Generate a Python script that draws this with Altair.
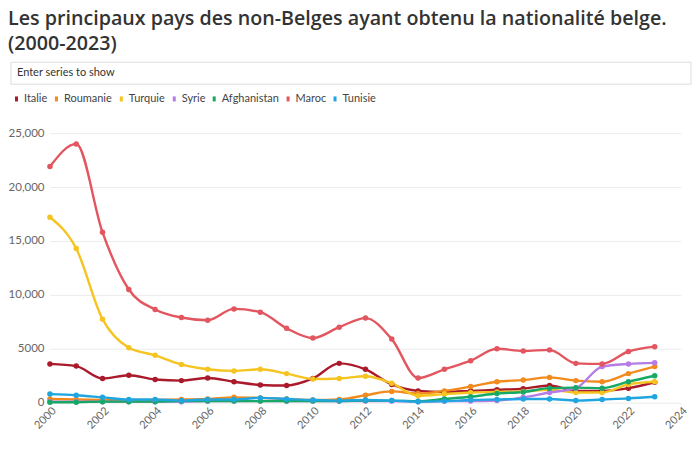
import altair as alt
import pandas as pd

years = list(range(2000, 2024))
series = ["Italie", "Roumanie", "Turquie", "Syrie", "Afghanistan", "Maroc", "Tunisie"]
colors = ["#ab1a2a", "#f28a1e", "#f6c420", "#b57ce6", "#17a866", "#e3555f", "#1fa5df"]

italie = [3600, 3400, 2250, 2550, 2150, 2050, 2300, 1950, 1650, 1600, 2250, 3650,
          3100, 1700, 1100, 1000, 1100, 1200, 1300, 1600, 1100, 1100, 1350, 1900]
roumanie = [350, 300, 250, 200, 250, 300, 350, 500, 450, 350, 250, 300,
            700, 1050, 850, 1100, 1500, 1950, 2100, 2350, 2050, 1950, 2700, 3350]
turquie = [17200, 14300, 7750, 5100, 4400, 3550, 3100, 2950, 3100, 2700, 2200, 2250,
           2450, 1800, 650, 800, 950, 1000, 1050, 1200, 950, 950, 1700, 1950]
syrie = [100, 100, 100, 100, 100, 100, 150, 150, 150, 150, 150, 150,
         150, 150, 100, 150, 150, 200, 500, 950, 1350, 3350, 3600, 3700]
afghanistan = [50, 50, 100, 100, 100, 150, 150, 150, 150, 150, 150, 150,
               200, 200, 150, 350, 550, 850, 1000, 1350, 1400, 1350, 1950, 2500]
maroc = [21900, 24000, 15800, 10500, 8650, 7900, 7650, 8700, 8400, 6900, 6000, 7000,
         7850, 5900, 2300, 3100, 3900, 5000, 4800, 4900, 3650, 3600, 4750, 5200]
tunisie = [800, 700, 500, 300, 300, 200, 300, 300, 450, 350, 250, 200,
           250, 200, 100, 150, 250, 300, 350, 350, 200, 300, 400, 550]

values = [italie, roumanie, turquie, syrie, afghanistan, maroc, tunisie]
rows = []
for i, (name, vals) in enumerate(zip(series, values)):
    for y, v in zip(years, vals):
        rows.append({"annee": y, "pays": name, "valeur": v, "ordre": i})
df = pd.DataFrame(rows)

FONT = "Lato"

color = alt.Color(
    "pays:N",
    scale=alt.Scale(domain=series, range=colors),
    sort=series,
    legend=alt.Legend(
        title=None, orient="none", direction="horizontal",
        legendX=-39, legendY=-40,
        symbolType="M -0.3 -0.5 H 0.3 V 0.5 H -0.3 Z",
        symbolSize=100, symbolStrokeWidth=0, symbolOpacity=1,
        labelFont=FONT, labelFontSize=11, labelColor="#444",
        columnPadding=3, labelOffset=2,
    ),
)

x = alt.X("annee:Q", scale=alt.Scale(domain=[2000, 2024], nice=False),
          axis=alt.Axis(title=None, values=list(range(2000, 2025, 2)), format="d",
                        labelAngle=-45, labelColor="#666", labelFont=FONT,
                        labelFontSize=11, grid=False, domain=False, ticks=False,
                        labelPadding=2))
y = alt.Y("valeur:Q", scale=alt.Scale(domain=[0, 25000], nice=False),
          axis=alt.Axis(title=None, values=[0, 5000, 10000, 15000, 20000, 25000],
                        labelExpr="datum.value >= 10000 ? format(datum.value, ',') : format(datum.value, 'd')",
                        labelColor="#666", labelFont=FONT, labelFontSize=11.5,
                        grid=True, gridColor="#ececec", domain=False, ticks=False,
                        labelPadding=6))

base = alt.Chart(df)
lines = base.mark_line(interpolate="monotone", strokeWidth=2.4).encode(
    x=x, y=y, color=color, detail="pays:N", order="annee:Q"
)
points = base.mark_circle(size=30, opacity=1).encode(
    x="annee:Q", y="valeur:Q",
    color=alt.Color("pays:N", scale=alt.Scale(domain=series, range=colors), legend=None),
)

box_df = pd.DataFrame({"t": ["Enter series to show"]})
box_rect = alt.Chart(box_df).mark_rect(fill="white", stroke="#dcdcdc", strokeWidth=1).encode(
    x=alt.value(-39), x2=alt.value(642), y=alt.value(-71), y2=alt.value(-49)
)
box_text = alt.Chart(box_df).mark_text(align="left", baseline="middle", font=FONT,
                                       fontSize=11, color="#333").encode(
    x=alt.value(-33), y=alt.value(-60), text="t:N"
)

chart = alt.layer(box_rect, box_text, lines, points).properties(
    width=632, height=270,
    title=alt.TitleParams(
        ["Les principaux pays des non-Belges ayant obtenu la nationalité belge.", "(2000-2023)"],
        anchor="start", frame="bounds", font="Open Sans", fontSize=19.7, fontWeight=600,
        color="#333", lineHeight=25, offset=8,
    ),
    padding={"left": 0, "top": 0, "right": 0, "bottom": 0},
).configure_view(stroke=None)

chart.save("out.html", embed_options={"renderer": "svg", "actions": False})
